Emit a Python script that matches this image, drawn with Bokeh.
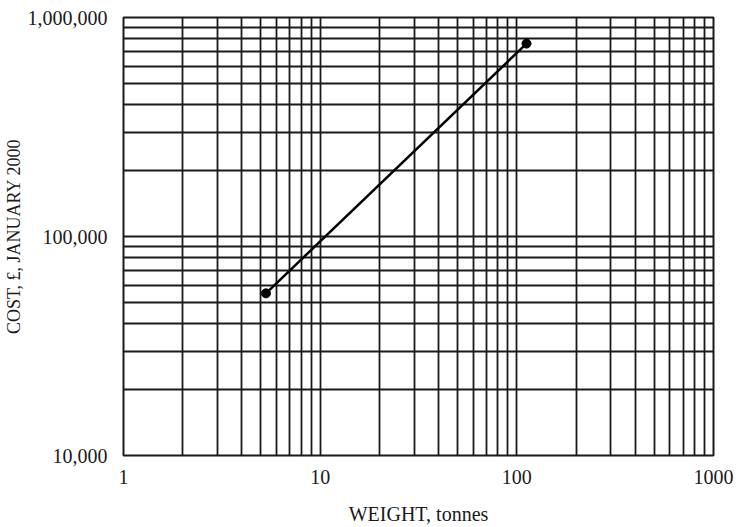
from bokeh.plotting import figure
from bokeh.models import FixedTicker
from bokeh.embed import file_html
from bokeh.resources import INLINE

# Cost–weight correlation (log-log)
weights = [5.3, 112]          # tonnes
costs = [55000, 760000]       # £, January 2000

x_major = [1, 10, 100, 1000]
x_labels = ["1", "10", "100", "1000"]
y_major = [10000, 100000, 1000000]
y_labels = ["10,000", "100,000", "1,000,000"]

x_minor = [m * d for d in (1, 10, 100) for m in range(2, 10)]
y_minor = [m * d for d in (10000, 100000) for m in range(2, 10)]

FONT = "Liberation Serif"
INK = "#1a1a1a"

p = figure(width=736, height=527, x_axis_type="log", y_axis_type="log",
           x_range=(1, 1000), y_range=(10000, 1000000),
           output_backend="svg", toolbar_location=None,
           min_border_left=123, min_border_right=23,
           min_border_top=17, min_border_bottom=72)
p.background_fill_color = "white"
p.border_fill_color = "white"
p.outline_line_color = INK
p.outline_line_width = 2

p.xaxis.ticker = FixedTicker(ticks=x_major, minor_ticks=x_minor)
p.yaxis.ticker = FixedTicker(ticks=y_major, minor_ticks=y_minor)
p.xaxis.major_label_overrides = {v: s for v, s in zip(x_major, x_labels)}
p.yaxis.major_label_overrides = {v: s for v, s in zip(y_major, y_labels)}

for ax in (p.xaxis, p.yaxis):
    ax.axis_line_color = None
    ax.major_tick_line_color = None
    ax.minor_tick_line_color = None
    ax.major_label_text_font = FONT
    ax.major_label_text_font_size = "20px"
    ax.major_label_text_color = INK
    ax.axis_label_text_font = FONT
    ax.axis_label_text_font_style = "normal"
    ax.axis_label_text_color = INK

p.xaxis.axis_label = "WEIGHT, tonnes"
p.yaxis.axis_label = "COST, £, JANUARY 2000"
p.xaxis.axis_label_text_font_size = "20px"
p.yaxis.axis_label_text_font_size = "18px"
p.xaxis.major_label_standoff = 8
p.yaxis.major_label_standoff = 10
p.xaxis.axis_label_standoff = 16
p.yaxis.axis_label_standoff = 1

for g in (p.xgrid, p.ygrid):
    g.grid_line_color = INK
    g.grid_line_width = 1.8
    g.minor_grid_line_color = INK
    g.minor_grid_line_width = 1.8

p.line(weights, costs, line_color="black", line_width=2.5)
p.scatter(weights, costs, size=9, color="black")

open("out.html", "w").write(file_html(p, INLINE))
